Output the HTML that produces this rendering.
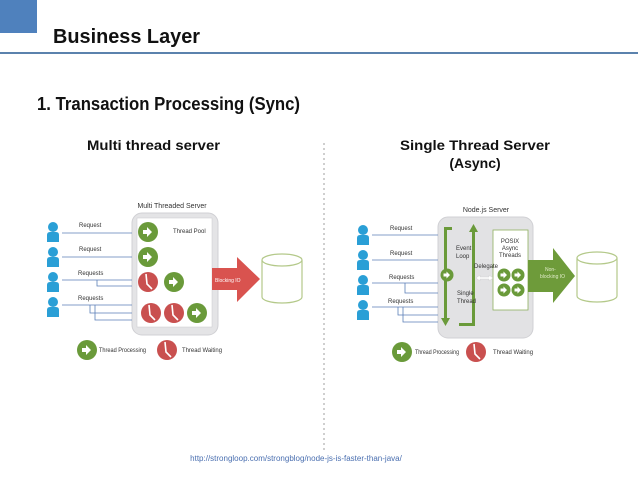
<!DOCTYPE html>
<html><head><meta charset="utf-8"><style>
html,body{margin:0;padding:0;background:#fff;}
body{width:638px;height:479px;overflow:hidden;position:relative;font-family:"Liberation Sans",sans-serif;}
</style></head><body>
<svg width="638" height="479" viewBox="0 0 638 479" xmlns="http://www.w3.org/2000/svg" style="position:absolute;left:0;top:0">
<defs>
<g id="person"><circle cx="0" cy="-5" r="5" fill="#2a9fd6"/><path d="M-6,10 L-6,3 Q-6,0 -3,0 L3,0 Q6,0 6,3 L6,10 Z" fill="#2a9fd6"/></g>
<g id="gc"><circle r="10" fill="#6a9a3a"/><path d="M-5,-2 h4 v-3 l5,5 l-5,5 v-3 h-4 z" fill="#fff"/></g>
<g id="rc"><circle r="10" fill="#c9504f"/><path d="M-2,-8 L-1,2 L4,7" stroke="#fff" stroke-width="1.6" fill="none"/></g>
<g id="gs"><circle r="6.5" fill="#6a9a3a"/><path d="M-3.5,-1.5 h3 v-2 l3.5,3.5 l-3.5,3.5 v-2 h-3 z" fill="#fff"/></g>
</defs>
<rect x="0" y="0" width="37" height="33" fill="#4f81bd"/>
<text x="53" y="43" font-size="20" font-weight="bold" fill="#111" textLength="147" lengthAdjust="spacingAndGlyphs">Business Layer</text>
<rect x="0" y="52" width="638" height="2" fill="#5b82ad"/>
<text x="37" y="110" font-size="18" font-weight="bold" fill="#111" textLength="263" lengthAdjust="spacingAndGlyphs">1. Transaction Processing (Sync)</text>
<text x="87" y="150" font-size="14" font-weight="bold" fill="#111" textLength="133" lengthAdjust="spacingAndGlyphs">Multi thread server</text>
<text x="400" y="150" font-size="14" font-weight="bold" fill="#111" textLength="150" lengthAdjust="spacingAndGlyphs">Single Thread Server</text>
<text x="475" y="168" font-size="14" font-weight="bold" text-anchor="middle" fill="#111">(Async)</text>
<line x1="324" y1="143" x2="324" y2="450" stroke="#777" stroke-width="0.7" stroke-dasharray="2,3"/>
<text x="296" y="461" font-size="8" text-anchor="middle" fill="#4a6fb0">http://strongloop.com/strongblog/node-js-is-faster-than-java/</text>

<!-- LEFT -->
<g font-size="6" fill="#333">
<text x="172" y="208" text-anchor="middle" font-size="7">Multi Threaded Server</text>
<rect x="132" y="213" width="86" height="122" rx="10" fill="#e4e4e6" stroke="#d0d0d4"/>
<rect x="137" y="218" width="75" height="109" fill="#fff" stroke="#c8c8cc" stroke-width="0.5"/>
<text x="173" y="233">Thread Pool</text>
<use href="#person" x="53" y="232"/><use href="#person" x="53" y="257"/><use href="#person" x="53" y="282"/><use href="#person" x="53" y="307"/>
<g stroke="#5b7fb8" stroke-width="0.8" fill="none">
<path d="M62,233 H132"/><path d="M62,257 H132"/><path d="M62,280 H132 M97,280 V286 H132"/><path d="M62,305 H132 M90,305 V313 H132 M95,305 V320 H132"/>
</g>
<text x="79" y="227">Request</text><text x="79" y="251">Request</text><text x="78" y="275">Requests</text><text x="78" y="300">Requests</text>
<use href="#gc" x="148" y="232"/><use href="#gc" x="148" y="257"/><use href="#rc" x="148" y="282"/><use href="#gc" x="174" y="282"/>
<use href="#rc" x="151" y="313"/><use href="#rc" x="174" y="313"/><use href="#gc" x="197" y="313"/>
<path d="M212,268 H237 V257 L260,279 L237,302 V290 H212 Z" fill="#d9534f"/>
<text x="215" y="282" fill="#fff" font-size="5">Blocking IO</text>
<g fill="#fff" stroke="#b4c98a" stroke-width="1.2"><path d="M262,260 V297 A20,6 0 0 0 302,297 V260"/><ellipse cx="282" cy="260" rx="20" ry="6"/></g>
<use href="#gc" x="87" y="350"/><text x="99" y="352" textLength="47" lengthAdjust="spacingAndGlyphs">Thread Processing</text>
<use href="#rc" x="167" y="350"/><text x="182" y="352" textLength="40" lengthAdjust="spacingAndGlyphs">Thread Waiting</text>
</g>

<!-- RIGHT -->
<g font-size="6" fill="#333">
<text x="486" y="212" text-anchor="middle" font-size="7">Node.js Server</text>
<rect x="438" y="217" width="95" height="121" rx="10" fill="#e2e2e4" stroke="#d0d0d4"/>
<use href="#person" x="363" y="235"/><use href="#person" x="363" y="260"/><use href="#person" x="363" y="285"/><use href="#person" x="363" y="310"/>
<g stroke="#5b7fb8" stroke-width="0.8" fill="none">
<path d="M372,235 H438"/><path d="M372,260 H438"/><path d="M372,283 H438 M405,283 V293 H438"/><path d="M372,307 H438 M398,307 V315 H438 M403,307 V322 H438"/>
</g>
<text x="390" y="230">Request</text><text x="390" y="255">Request</text><text x="389" y="279">Requests</text><text x="388" y="303">Requests</text>
<g fill="#6a9a3a">
<rect x="444" y="227" width="3" height="93"/><rect x="444" y="227" width="8" height="3"/><path d="M441,318 L450,318 L445.5,326 Z"/>
<rect x="472" y="230" width="3" height="96"/><rect x="459" y="323" width="16" height="3"/><path d="M469,232 L478,232 L473.5,224 Z"/>
</g>
<use href="#gs" x="447" y="275"/>
<text x="456" y="250">Event</text><text x="456" y="258">Loop</text>
<text x="457" y="295">Single</text><text x="457" y="303">Thread</text>
<rect x="493" y="230" width="35" height="80" fill="#fff" stroke="#8fb060" stroke-width="0.8"/>
<text x="510" y="243" text-anchor="middle">POSIX</text><text x="510" y="250" text-anchor="middle">Async</text><text x="510" y="257" text-anchor="middle">Threads</text>
<text x="474" y="268">Delegate</text>
<path d="M476,278 L480,275 V277 H489 V275 L493,278 L489,281 V279 H480 V281 Z" fill="#fff" stroke="#ccc" stroke-width="0.4"/>
<use href="#gs" x="504" y="275"/><use href="#gs" x="518" y="275"/><use href="#gs" x="504" y="290"/><use href="#gs" x="518" y="290"/>
<path d="M528,260 H553 V248 L575,276 L553,303 V292 H528 Z" fill="#6e9b3a"/>
<text x="545" y="271" fill="#e0ecc8" font-size="5">Non-</text><text x="540" y="278" fill="#e0ecc8" font-size="5">blocking IO</text>
<g fill="#fff" stroke="#b4c98a" stroke-width="1.2"><path d="M577,258 V296 A20,6 0 0 0 617,296 V258"/><ellipse cx="597" cy="258" rx="20" ry="6"/></g>
<use href="#gc" x="402" y="352"/><text x="415" y="354" textLength="44" lengthAdjust="spacingAndGlyphs">Thread Processing</text>
<use href="#rc" x="476" y="352"/><text x="493" y="354" textLength="40" lengthAdjust="spacingAndGlyphs">Thread Waiting</text>
</g>
</svg>
</body></html>
